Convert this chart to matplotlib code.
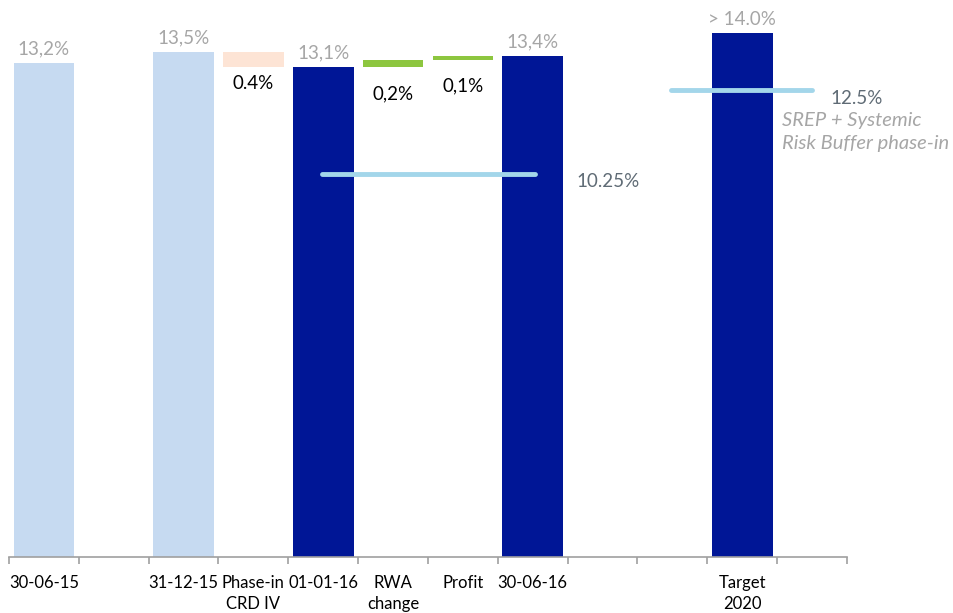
import matplotlib.pyplot as plt
from matplotlib.ticker import FixedLocator

plt.rcParams['font.family'] = ['Lato', 'DejaVu Sans']

# category slots along the x axis (empty strings are spacer slots)
categories = ["30-06-15", "", "31-12-15", "Phase-in\nCRD IV", "01-01-16", "RWA\nchange",
              "Profit", "30-06-16", "", "", "Target\n2020", ""]

# CET1 ratio levels (%)
total_pos = [0, 2, 4, 7, 10]
total_vals = [13.2, 13.5, 13.1, 13.4, 14.0]
total_labels = ["13,2%", "13,5%", "13,1%", "13,4%", "> 14.0%"]
total_colors = ["#c6daf1", "#c6daf1", "#001696", "#001696", "#001696"]

# bridge steps between 31-12-15 and 30-06-16
step_pos = [3, 5, 6]
step_start = [13.5, 13.1, 13.3]
step_vals = [-0.4, 0.2, 0.1]
step_labels = ["0.4%", "0,2%", "0,1%"]
step_colors = ["#fde4d5", "#8dc63f", "#8dc63f"]

# regulatory requirement lines
req_levels = [10.25, 12.5]
req_labels = ["10.25%", "12.5%"]

fig = plt.figure(figsize=(9.54, 6.13), dpi=100)
ax = fig.add_axes([9 / 954, 56 / 613, 838 / 954, 557 / 613])

w = 0.87
ax.bar(total_pos, total_vals, width=w, color=total_colors, zorder=2)
for x, v, t in zip(total_pos, total_vals, total_labels):
    ax.annotate(t, (x, v), xytext=(0, 4), textcoords="offset points",
                ha="center", va="bottom", fontsize=13.5, color="#a6a6a6")

for x, s, d, t, c, off in zip(step_pos, step_start, step_vals, step_labels, step_colors,
                              [-6, -13, -13]):
    lo = min(s, s + d)
    ax.bar(x, abs(d), bottom=lo, width=w, color=c, zorder=2)
    ax.annotate(t, (x, lo), xytext=(0, off), textcoords="offset points",
                ha="center", va="top", fontsize=13.5, color="black")

# requirement lines
spans = [(3.98, 7.03), (8.98, 11.0)]
for lvl, (x0, x1) in zip(req_levels, spans):
    ax.plot([x0, x1], [lvl, lvl], color="#a3d6ea", lw=3.5, solid_capstyle="round", zorder=3)

ax.text(7.63, req_levels[0] - 0.22, req_labels[0], fontsize=13.5, color="#5f6b75",
        ha="left", va="center")
ax.text(11.26, req_levels[1] - 0.23, req_labels[1], fontsize=13.5, color="#5f6b75",
        ha="left", va="center")
ax.text(10.57, 11.9, "SREP + Systemic\nRisk Buffer phase-in", fontsize=14.5,
        color="#a6a6a6", style="italic", ha="left", va="top", linespacing=1.45)

ax.set_xlim(-0.5, 11.5)
ax.set_ylim(0, 557 / 37.4)
ax.set_xticks(range(len(categories)))
ax.set_xticklabels(categories, fontsize=12, linespacing=1.35)
ax.xaxis.set_minor_locator(FixedLocator([i - 0.5 for i in range(len(categories) + 1)]))
ax.tick_params(axis="x", which="major", length=0, pad=13)
ax.tick_params(axis="x", which="minor", length=5, color="#a0a0a0", width=1.2)
ax.set_yticks([])
for side in ["left", "right", "top"]:
    ax.spines[side].set_visible(False)
ax.spines["bottom"].set_color("#a0a0a0")
ax.spines["bottom"].set_linewidth(1.2)

fig.savefig("out.png", dpi=100)
